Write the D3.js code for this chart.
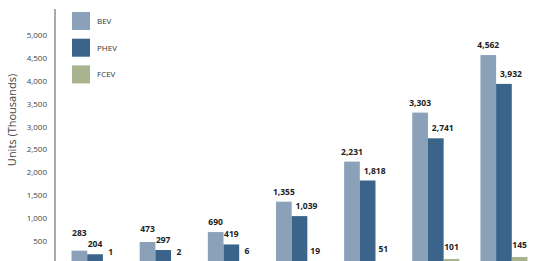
<!DOCTYPE html>
<html>
<head>
<meta charset="utf-8">
<script src="https://cdn.jsdelivr.net/npm/d3@7"></script>
<style>
  body { margin: 0; background: #fff; }
  text { font-family: "Open Sans", "Noto Sans", sans-serif; }
</style>
</head>
<body>
<div id="chart"></div>
<script>
// groups (x-axis labels are cropped out of the picture)
const groups = ["1", "2", "3", "4", "5", "6", "7"];
const seriesNames = ["BEV", "PHEV", "FCEV"];
const bev  = [283, 473, 690, 1355, 2231, 3303, 4562];
const phev = [204, 297, 419, 1039, 1818, 2741, 3932];
const fcev = [1, 2, 6, 19, 51, 101, 145];
const yTicks = [500, 1000, 1500, 2000, 2500, 3000, 3500, 4000, 4500, 5000];

const width = 533, height = 261;
const colors = ["#8aa1b9", "#3a6489", "#a9b48e"];
const fmt = d3.format(",");

const svg = d3.select("#chart").append("svg")
  .attr("width", width)
  .attr("height", height);

// y scale: 0 sits just below the bottom edge of the picture
const y = d3.scaleLinear().domain([0, 5500]).range([263.6, 12.2]);

const x0 = d3.scaleBand().domain(groups).range([62, 537]).paddingInner(0.31).paddingOuter(0.14);
const x1 = d3.scaleBand().domain(seriesNames).range([0, x0.bandwidth()]);

// y axis
const yAxis = d3.axisLeft(y).tickValues(yTicks).tickSize(0).tickPadding(8).tickFormat(fmt);
const ag = svg.append("g").attr("transform", "translate(55,0)").call(yAxis);
ag.select(".domain").remove();
ag.selectAll("text").style("font-size", "8px").style("fill", "#444");
svg.append("line")
  .attr("x1", 55).attr("x2", 55).attr("y1", 9).attr("y2", height)
  .attr("stroke", "#555").attr("stroke-width", 1);

svg.append("text")
  .attr("transform", "translate(16,120) rotate(-90)")
  .attr("text-anchor", "middle")
  .style("font-size", "11px")
  .style("fill", "#444")
  .text("Units (Thousands)");

// bars
const data = groups.map((g, i) => ({ g, vals: [bev[i], phev[i], fcev[i]] }));
const gg = svg.selectAll(".grp").data(data).join("g")
  .attr("transform", d => `translate(${x0(d.g)},0)`);

gg.selectAll("rect")
  .data(d => d.vals.map((v, j) => ({ s: seriesNames[j], v, j })))
  .join("rect")
  .attr("x", d => x1(d.s))
  .attr("y", d => y(d.v))
  .attr("width", x1.bandwidth())
  .attr("height", d => y(0) - y(d.v))
  .attr("fill", d => colors[d.j]);

// value labels: stacked upward so small ones don't collide
function labelPos(vals) {
  const fy = Math.min(y(vals[2]) - 9, 255);
  const py = y(vals[1]) - 7;
  const by = Math.min(y(vals[0]) - 7, py - 11);
  return [by, py, fy];
}

gg.selectAll(".lbl")
  .data(d => {
    const ys = labelPos(d.vals);
    return d.vals.map((v, j) => ({ s: seriesNames[j], v, j, ly: ys[j] }));
  })
  .join("text")
  .attr("x", d => x1(d.s) + x1.bandwidth() / 2 + (d.j === 1 && d.v >= 1000 ? 7 : 0))
  .attr("y", d => d.ly)
  .attr("text-anchor", "middle")
  .style("font-size", "8.5px")
  .style("font-weight", "bold")
  .style("fill", "#222")
  .text(d => fmt(d.v));

// legend
const lg = svg.append("g").attr("transform", "translate(72,12)");
seriesNames.forEach((s, i) => {
  lg.append("rect").attr("x", 0).attr("y", i * 26.7).attr("width", 18).attr("height", 18)
    .attr("fill", colors[i]);
  lg.append("text").attr("x", 25).attr("y", i * 26.7 + 12)
    .style("font-size", "8px").style("fill", "#333").text(s);
});
</script>
</body>
</html>
